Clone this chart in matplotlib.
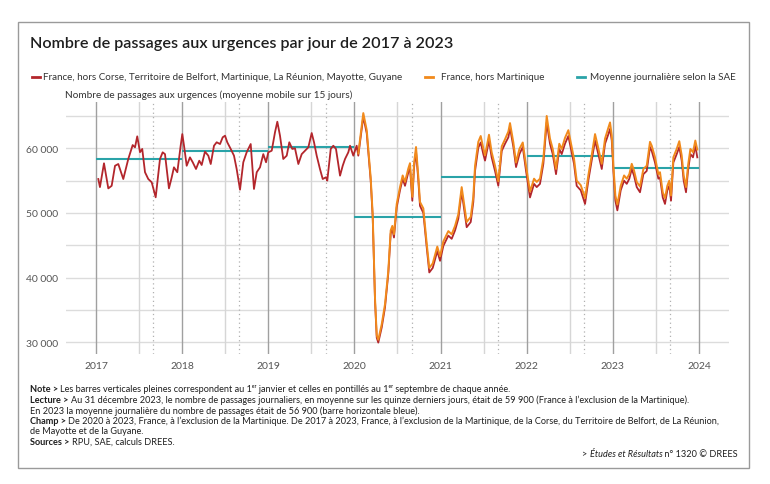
import matplotlib
matplotlib.use("Agg")
import matplotlib.pyplot as plt
from matplotlib.lines import Line2D
from matplotlib.patches import Rectangle

plt.rcParams['font.family'] = ['Lato', 'DejaVu Sans']

# ---------------- data ----------------
red_t = [2017.027, 2017.046, 2017.093, 2017.143, 2017.182, 2017.221, 2017.259, 2017.317, 2017.375, 2017.426,
         2017.453, 2017.479, 2017.511, 2017.537, 2017.569, 2017.607, 2017.647, 2017.693, 2017.743, 2017.774,
         2017.801, 2017.847, 2017.879, 2017.905, 2017.944, 2017.983, 2018.002, 2018.022, 2018.053, 2018.091,
         2018.123, 2018.161, 2018.199, 2018.227, 2018.265, 2018.304, 2018.332, 2018.370, 2018.401, 2018.440,
         2018.471, 2018.498, 2018.524, 2018.564, 2018.602, 2018.633, 2018.672, 2018.710, 2018.749, 2018.796,
         2018.834, 2018.866, 2018.904, 2018.942, 2018.974, 2019.000, 2019.040, 2019.078, 2019.105, 2019.136,
         2019.174, 2019.214, 2019.244, 2019.279, 2019.310, 2019.349, 2019.388, 2019.426, 2019.465, 2019.504,
         2019.531, 2019.562, 2019.600, 2019.632, 2019.670, 2019.685, 2019.725, 2019.755, 2019.786, 2019.833,
         2019.864, 2019.891, 2019.929, 2019.949, 2019.987, 2020.026, 2020.045,
         2020.103, 2020.143, 2020.189, 2020.212, 2020.239, 2020.259, 2020.277, 2020.317, 2020.355, 2020.393,
         2020.421, 2020.440, 2020.459, 2020.491, 2020.529, 2020.560, 2020.587, 2020.626, 2020.645, 2020.672,
         2020.692, 2020.715, 2020.742, 2020.761, 2020.800, 2020.839, 2020.869, 2020.909, 2020.962, 2020.994,
         2021.032, 2021.090, 2021.129, 2021.168, 2021.206, 2021.245, 2021.303, 2021.350, 2021.380, 2021.400,
         2021.438, 2021.466, 2021.496, 2021.516, 2021.562, 2021.593, 2021.632, 2021.670, 2021.710, 2021.748,
         2021.787, 2021.806, 2021.845, 2021.876, 2021.915, 2021.954, 2021.992, 2022.038, 2022.085, 2022.116,
         2022.154, 2022.193, 2022.232, 2022.270, 2022.302, 2022.340, 2022.378, 2022.406, 2022.444, 2022.483,
         2022.522, 2022.549, 2022.580, 2022.627, 2022.677, 2022.715, 2022.754, 2022.793, 2022.831, 2022.871,
         2022.909, 2022.948, 2022.967, 2022.987, 2023.006, 2023.029, 2023.052, 2023.091, 2023.130, 2023.161,
         2023.191, 2023.219, 2023.245, 2023.277, 2023.315, 2023.354, 2023.393, 2023.431, 2023.451, 2023.489,
         2023.528, 2023.547, 2023.579, 2023.605, 2023.632, 2023.655, 2023.675, 2023.702, 2023.741, 2023.771,
         2023.799, 2023.822, 2023.849, 2023.872, 2023.900, 2023.930, 2023.957, 2023.980]
red_v = [55250, 54000, 57680, 53800, 54200, 57300, 57570, 55250, 58350, 60500,
         60150, 61850, 59400, 59900, 56300, 55250, 54740, 52420, 58350, 59380,
         59100, 53800, 55500, 57060, 56300, 60400, 62200, 60400, 57300, 58600,
         57840, 56800, 58080, 57420, 59480, 58860, 57570, 60400, 60930, 60660,
         61700, 61950, 60930, 59900, 58860, 56800, 53600, 57840, 59380, 60660,
         53710, 56300, 57060, 59100, 57840, 59380, 59630, 62470, 64110, 61950,
         58350, 58860, 60930, 59900, 60000, 57570, 59100, 59630, 60150, 62360,
         60930, 58860, 56800, 55250, 55520, 55000, 59900, 60400, 59900, 55770,
         57300, 58350, 59380, 60400, 58860, 60400, 58860,
         64900, 62300, 55000, 49400, 36400, 30700, 29950, 32300, 35400, 40600,
         46800, 47500, 46200, 50900, 53500, 55300, 54200, 56300, 57000, 51900,
         57000, 59500, 55000, 51100, 50000, 44700, 40800, 41500, 44100, 42600,
         44900, 46500, 46000, 47300, 49100, 53300, 47800, 48600, 51700, 56500,
         60100, 60900, 59100, 58100, 61200, 58600, 56500, 54200, 59600, 60700,
         61700, 63200, 60200, 57100, 59100, 60200, 56500, 52400, 54500, 54000,
         54500, 57600, 64000, 60700, 59100, 56000, 59900, 59100, 60700, 61900,
         59400, 57600, 54200, 53500, 51400, 55000, 58100, 61200, 59100, 56800,
         60700, 62200, 63000, 61200, 56500, 51900, 50400, 53500, 55000, 54500,
         55300, 56800, 55800, 54000, 53200, 56000, 56500, 60200, 59600, 57800,
         55300, 55500, 52400, 51400, 53500, 54200, 51900, 57800, 59100, 60200,
         58100, 55000, 53200, 56500, 59100, 58600, 60400, 58600]

orange_t = [2020.045,
            2020.103, 2020.143, 2020.189, 2020.212, 2020.239, 2020.259, 2020.277, 2020.317, 2020.355, 2020.393,
            2020.421, 2020.440, 2020.459, 2020.491, 2020.529, 2020.560, 2020.587, 2020.626, 2020.645, 2020.672,
            2020.692, 2020.715, 2020.742, 2020.761, 2020.800, 2020.839, 2020.869, 2020.909, 2020.962, 2020.994,
            2021.032, 2021.090, 2021.129, 2021.168, 2021.206, 2021.245, 2021.303, 2021.350, 2021.380, 2021.400,
            2021.438, 2021.466, 2021.496, 2021.516, 2021.562, 2021.593, 2021.632, 2021.670, 2021.710, 2021.748,
            2021.787, 2021.806, 2021.845, 2021.876, 2021.915, 2021.954, 2021.992, 2022.038, 2022.085, 2022.116,
            2022.154, 2022.193, 2022.232, 2022.270, 2022.302, 2022.340, 2022.378, 2022.406, 2022.444, 2022.483,
            2022.522, 2022.549, 2022.580, 2022.627, 2022.677, 2022.715, 2022.754, 2022.793, 2022.831, 2022.871,
            2022.909, 2022.948, 2022.967, 2022.987, 2023.006, 2023.029, 2023.052, 2023.091, 2023.130, 2023.161,
            2023.191, 2023.219, 2023.245, 2023.277, 2023.315, 2023.354, 2023.393, 2023.431, 2023.451, 2023.489,
            2023.528, 2023.547, 2023.579, 2023.605, 2023.632, 2023.655, 2023.675, 2023.702, 2023.741, 2023.771,
            2023.799, 2023.822, 2023.849, 2023.872, 2023.900, 2023.930, 2023.957, 2023.980]
orange_v = [59200,
            65450, 62800, 55400, 49800, 36800, 31100, 30400, 32800, 35900, 41000,
            47300, 48000, 46700, 51400, 54000, 55800, 54800, 56900, 57700, 52500,
            57700, 60200, 55600, 51700, 50700, 45300, 41500, 42200, 44800, 43300,
            45600, 47200, 46700, 48000, 49800, 54000, 48600, 49400, 52500, 57300,
            61000, 61900, 60000, 58900, 62100, 59400, 57300, 54900, 60300, 61400,
            62600, 63900, 60900, 57800, 59900, 60900, 57300, 53300, 55300, 54800,
            55300, 58400, 65000, 61500, 59900, 56800, 60700, 59900, 61600, 62800,
            60200, 58400, 55000, 54300, 52300, 55800, 58900, 62200, 60000, 57600,
            61500, 63200, 64000, 62000, 57300, 52700, 51300, 54200, 55800, 55300,
            56000, 57600, 56600, 54800, 54100, 56800, 57300, 61000, 60400, 58600,
            56000, 56300, 53200, 52300, 54200, 55000, 52700, 58600, 59900, 61100,
            58900, 55800, 54000, 57300, 59900, 59400, 61200, 59800]

sae_years = [2017, 2018, 2019, 2020, 2021, 2022, 2023]
sae_values = [58300, 59600, 60200, 49300, 55500, 58800, 56900]

year_labels = ['2017', '2018', '2019', '2020', '2021', '2022', '2023', '2024']
y_ticks = [30000, 40000, 50000, 60000]

title = "Nombre de passages aux urgences par jour de 2017 à 2023"
legend_labels = ["France, hors Corse, Territoire de Belfort, Martinique, La Réunion, Mayotte, Guyane",
                 "France, hors Martinique",
                 "Moyenne journalière selon la SAE"]
ytitle = "Nombre de passages aux urgences (moyenne mobile sur 15 jours)"

RED = '#B3262C'
ORANGE = '#F18A1C'
TEAL = '#2AA3A8'

W, H = 770, 485
fig = plt.figure(figsize=(W / 100, H / 100), dpi=100)

def fx(px):
    return px / W

def fy(py):
    return 1 - py / H

# outer frame
fig.patches.append(Rectangle((fx(18), fy(469)), fx(749) - fx(18), fy(23) - fy(469),
                             transform=fig.transFigure, fill=False, edgecolor='#9a9a9a', lw=1.0))

ax = fig.add_axes([fx(66), fy(355), fx(729) - fx(66), fy(103) - fy(355)])
ax.set_xlim(2016.652, 2024.348)
ax.set_ylim(28190, 67160)
for s in ax.spines.values():
    s.set_visible(False)
ax.tick_params(length=0)

# horizontal grid
for g in range(30000, 65001, 5000):
    ax.axhline(g, color='#dcdcdc', lw=1.0, zorder=0)
# vertical reference lines
for yl in year_labels:
    yr = int(yl)
    ax.axvline(yr, color='#a0a0a0', lw=1.0, zorder=1)
    if yr < 2024:
        ax.axvline(yr + 0.5, color='#d6d6d6', lw=1.0, zorder=1)
        ax.axvline(yr + 243 / 365, color='#b0b0b0', lw=0.9, ls=(0, (1, 2.5)), zorder=1)

# SAE yearly means
for yr, v in zip(sae_years, sae_values):
    ax.plot([yr, yr + 1], [v, v], color=TEAL, lw=1.5, zorder=2, solid_capstyle='butt')

ax.plot(red_t, red_v, color=RED, lw=1.3, zorder=3)
ax.plot(orange_t, orange_v, color=ORANGE, lw=1.4, zorder=4)

ax.set_xticks([int(y) for y in year_labels])
ax.set_xticklabels(year_labels, fontsize=7.5, color='#555555')
ax.tick_params(axis='x', pad=5)
ax.set_yticks(y_ticks)
ax.set_yticklabels([f"{v:,}".replace(',', '\u00a0') for v in y_ticks], fontsize=7.5, color='#555555')
ax.tick_params(axis='y', pad=6)

# title
fig.text(fx(30), fy(44), title, fontsize=11.6, fontweight='semibold', color='#1e1e1e', va='center', ha='left')

# legend
leg_items = [(32, 43, RED), (425, 441, ORANGE), (577, 590, TEAL)]
for (mx, tx, col), lab in zip(leg_items, legend_labels):
    fig.lines.append(Line2D([fx(mx), fx(mx + 8)], [fy(78), fy(78)], transform=fig.transFigure,
                            color=col, lw=2.0))
    fig.text(fx(tx), fy(78), lab, fontsize=7.1, color='#333333', va='center', ha='left')

fig.text(fx(65), fy(95), ytitle, fontsize=7.2, color='#333333', va='center', ha='left')

# footnotes with bold prefixes
renderer = fig.canvas.get_renderer()
FN = 6.55

def rich(x_px, y_px, parts, size=FN):
    x = fx(x_px)
    for txt, style in parts:
        kw = {}
        if style == 'b':
            kw['fontweight'] = 'bold'
        elif style == 'i':
            kw['fontstyle'] = 'italic'
        t = fig.text(x, fy(y_px), txt, fontsize=size, color='#1e1e1e', va='center', ha='left', **kw)
        bb = t.get_window_extent(renderer=renderer)
        x = bb.x1 / fig.bbox.width
    return x

notes = [
    (390, [("Note > ", 'b'), ("Les barres verticales pleines correspondent au 1ᵉʳ janvier et celles en pontillés au 1ᵉʳ septembre de chaque année.", 'r')]),
    (400.5, [("Lecture > ", 'b'), ("Au 31 décembre 2023, le nombre de passages journaliers, en moyenne sur les quinze derniers jours, était de 59 900 (France à l’exclusion de la Martinique).", 'r')]),
    (411, [("En 2023 la moyenne journalière du nombre de passages était de 56 900 (barre horizontale bleue).", 'r')]),
    (421.5, [("Champ > ", 'b'), ("De 2020 à 2023, France, à l’exclusion de la Martinique. De 2017 à 2023, France, à l’exclusion de la Martinique, de la Corse, du Territoire de Belfort, de La Réunion,", 'r')]),
    (432, [("de Mayotte et de la Guyane.", 'r')]),
    (442.5, [("Sources > ", 'b'), ("RPU, SAE, calculs DREES.", 'r')]),
]
for y, parts in notes:
    rich(30, y, parts)

# bottom-right credit
t2 = fig.text(fx(738), fy(455), " n° 1320 © DREES", fontsize=FN, color='#1e1e1e', va='center', ha='right')
bb = t2.get_window_extent(renderer=renderer)
t1 = fig.text(bb.x0 / fig.bbox.width, fy(455), "Études et Résultats", fontsize=FN, fontstyle='italic',
              color='#1e1e1e', va='center', ha='right')
bb = t1.get_window_extent(renderer=renderer)
fig.text(bb.x0 / fig.bbox.width, fy(455), "> ", fontsize=FN, color='#1e1e1e', va='center', ha='right')

fig.savefig('out.png', dpi=100)
